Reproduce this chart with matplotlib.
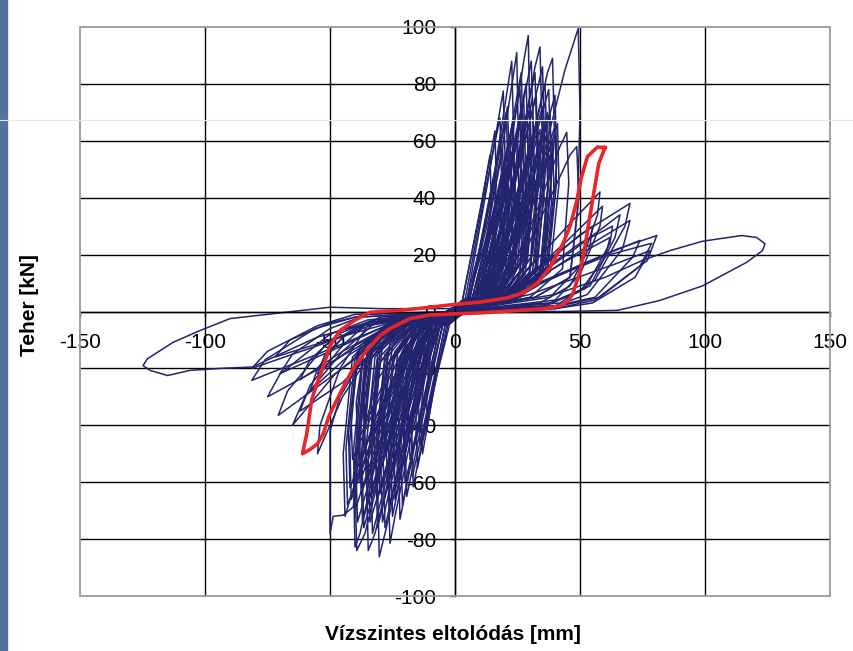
"""Hysteresis chart: Teher vs Vízszintes eltolódás (image-only output)."""

import matplotlib
matplotlib.use("Agg")
import matplotlib.pyplot as plt
from matplotlib.lines import Line2D
from matplotlib.patches import Rectangle

plt.rcParams["font.family"] = ["Liberation Sans", "DejaVu Sans"]

# axis ticks
X_TICKS = [-150, -100, -50, 0, 50, 100, 150]
Y_TICKS = [-100, -80, -60, -40, -20, 0, 20, 40, 60, 80, 100]

# positive spikes (displacement mm, load kN)
pos_spikes = [
    [(-4, -1), (3, 4), (10, 35), (14, 55), (14.5, 40), (12, 12), (6, 4), (-2, 0)],
    [(-3, -1), (3, 4), (11, 40), (16, 63.5), (16.5, 45), (14, 14), (7, 4), (-1, 0)],
    [(-5, -1), (4, 4), (12, 42), (18, 68), (18.6, 48), (15, 15), (8, 5), (-2, 1)],
    [(-3, 0), (5, 5), (13, 45), (19.3, 77.5), (20, 55), (17, 18), (9, 5), (0, 1)],
    [(-6, -1), (5, 4), (14, 30), (20, 50), (20.5, 35), (17, 12), (10, 4), (0, 0)],
    [(-2, 0), (6, 5), (15, 42), (21, 72), (21.8, 50), (18, 15), (10, 4), (1, 1)],
    [(-4, -1), (6, 5), (16, 50), (22.7, 88), (23.5, 60), (20, 18), (12, 5), (0, 0)],
    [(-3, 0), (7, 5), (17, 40), (23, 66), (23.6, 45), (20, 14), (12, 4), (1, 0)],
    [(-5, -1), (8, 5), (18, 28), (24, 45), (24.5, 30), (21, 10), (13, 4), (0, 0)],
    [(-2, 0), (8, 5), (18, 52), (24.7, 91), (25.3, 62), (22, 20), (13, 5), (2, 1)],
    [(-4, -1), (9, 5), (19, 36), (25, 60), (25.6, 40), (22, 12), (14, 4), (0, 0)],
    [(-3, 0), (8, 5), (19, 46), (26, 78), (26.8, 55), (23, 16), (14, 5), (1, 1)],
    [(-2, 0), (9, 5), (20, 42), (27, 70), (27.6, 48), (24, 15), (15, 5), (0, 0)],
    [(-5, -1), (10, 5), (21, 26), (28, 42), (28.5, 28), (25, 10), (16, 4), (0, 0)],
    [(-3, 0), (10, 5), (21, 48), (28.5, 80), (29.2, 56), (26, 17), (16, 5), (1, 1)],
    [(-4, -1), (10, 5), (22, 56), (27.5, 88), (29.3, 97), (30, 65), (27, 20), (17, 6), (1, 1)],
    [(-3, 0), (11, 5), (22, 33), (30, 55), (30.6, 38), (27, 12), (18, 4), (0, 0)],
    [(-2, 0), (11, 5), (23, 44), (31, 75), (31.7, 52), (28, 16), (18, 5), (1, 1)],
    [(-4, -1), (11, 5), (24, 50), (32, 84), (32.8, 58), (29, 18), (19, 5), (0, 0)],
    [(-3, 0), (13, 5), (25, 28), (32, 45), (32.5, 30), (29, 10), (20, 4), (1, 0)],
    [(-2, 0), (12, 5), (25, 40), (33, 68), (33.6, 46), (30, 14), (20, 5), (0, 0)],
    [(-4, -1), (12, 5), (26, 56), (32, 86), (34, 93), (34.8, 64), (31, 20), (21, 6), (1, 1)],
    [(-3, 0), (14, 5), (27, 34), (35, 58), (35.6, 40), (32, 12), (22, 4), (0, 0)],
    [(-2, 0), (13, 5), (27, 46), (36, 80), (36.8, 56), (33, 16), (22, 5), (1, 1)],
    [(-4, -1), (15, 5), (28, 24), (36, 40), (36.5, 27), (33, 9), (23, 4), (0, 0)],
    [(-3, 0), (14, 5), (28, 40), (37, 70), (37.6, 48), (34, 14), (23, 5), (0, 0)],
    [(-2, 0), (16, 5), (29, 32), (38, 55), (38.6, 38), (35, 12), (24, 4), (1, 0)],
    [(-4, -1), (14, 5), (29, 52), (37, 84), (39, 89), (39.8, 62), (36, 18), (24, 6), (1, 1)],
    [(-3, 0), (15, 5), (30, 44), (40, 76), (40.7, 52), (37, 15), (25, 5), (0, 0)],
    [(-2, 0), (16, 5), (31, 38), (41, 66), (41.6, 45), (38, 14), (26, 5), (1, 1)],
    [(-4, -1), (18, 5), (33, 36), (42, 58), (44.7, 63), (45.5, 45), (43, 15), (30, 5), (0, 0)],
    [(-3, 0), (20, 6), (36, 36), (46, 55), (48.7, 58), (49.5, 40), (46, 12), (32, 5), (1, 1)],
    [(-4, -1), (18, 6), (34, 50), (44, 85), (49.3, 99.5), (50, 70), (49, 35), (46, 12), (32, 5), (0, 0)],
    [(-3, 0), (6, 5), (14, 35), (19, 58), (19.6, 40), (16, 12), (9, 4), (0, 0)],
    [(-2, 0), (7, 5), (16, 38), (22, 62), (22.6, 42), (19, 13), (11, 4), (1, 0)],
    [(-4, -1), (8, 5), (17, 36), (23.5, 58), (24.1, 40), (21, 12), (12, 4), (0, 0)],
    [(-3, 0), (9, 5), (19, 40), (26, 66), (26.6, 46), (23, 14), (14, 4), (1, 1)],
    [(-2, 0), (10, 5), (20, 44), (27.5, 74), (28.2, 52), (25, 16), (15, 5), (0, 0)],
    [(-4, -1), (10, 5), (21, 38), (29, 64), (29.6, 45), (26, 14), (16, 4), (1, 0)],
    [(-3, 0), (11, 5), (22, 42), (30, 72), (30.7, 50), (27, 15), (17, 5), (0, 0)],
    [(-2, 0), (12, 5), (23, 36), (31, 62), (31.6, 44), (28, 13), (18, 4), (1, 1)],
    [(-4, -1), (12, 5), (24, 46), (32.5, 76), (33.2, 53), (30, 16), (19, 5), (0, 0)],
    [(-3, 0), (13, 5), (25, 38), (34, 64), (34.6, 45), (31, 14), (20, 4), (1, 0)],
    [(-2, 0), (13, 5), (26, 44), (35, 72), (35.7, 50), (32, 15), (21, 5), (0, 0)],
    [(-4, -1), (14, 5), (27, 36), (36.5, 62), (37.1, 44), (34, 13), (22, 4), (1, 1)],
    [(-3, 0), (15, 5), (28, 42), (38, 70), (38.7, 49), (35, 15), (23, 5), (0, 0)],
    [(-2, 0), (16, 5), (29, 36), (39, 60), (39.6, 42), (36, 13), (24, 4), (1, 0)],
    [(-4, -1), (17, 5), (30, 40), (40, 65), (40.6, 45), (37, 14), (25, 5), (0, 0)],
    [(-3, 0), (6, 5), (15, 45), (20.5, 70), (21.2, 50), (18, 15), (10, 5), (0, 0)],
    [(-2, 0), (9, 5), (20, 52), (26.5, 84), (27.3, 60), (24, 18), (14, 5), (1, 1)],
    [(-4, -1), (11, 5), (23, 54), (30.5, 88), (31.3, 62), (28, 19), (17, 5), (0, 0)],
    [(-3, 0), (13, 5), (26, 52), (35, 86), (35.8, 60), (32, 18), (20, 5), (1, 0)],
    [(-2, 0), (15, 5), (28, 48), (37.5, 78), (38.3, 55), (35, 17), (22, 5), (0, 0)],
    [(-4, -1), (5, 5), (12, 30), (16, 48), (16.5, 34), (13, 11), (7, 4), (0, 0)],
    [(-3, 0), (7, 5), (15, 32), (21, 52), (21.5, 36), (18, 11), (10, 4), (1, 0)],
]

# negative spikes
neg_spikes = [
    [(4, 1), (-2, -4), (-8, -25), (-11, -40), (-11.5, -28), (-9, -10), (-4, -3), (2, 0)],
    [(3, 0), (-3, -4), (-9, -30), (-13, -50), (-13.6, -35), (-11, -12), (-5, -4), (1, 0)],
    [(5, 1), (-3, -5), (-10, -33), (-15, -55), (-15.6, -38), (-12, -13), (-6, -4), (0, 0)],
    [(4, 0), (-4, -5), (-11, -36), (-16.7, -61.6), (-17.3, -43), (-14, -14), (-7, -4), (2, 0)],
    [(3, 1), (-5, -5), (-12, -30), (-18, -52), (-18.6, -36), (-15, -12), (-8, -4), (1, 0)],
    [(5, 0), (-5, -5), (-13, -38), (-19.3, -65), (-20, -45), (-16, -15), (-9, -4), (0, 0)],
    [(4, 1), (-6, -5), (-14, -26), (-20, -45), (-20.6, -31), (-17, -11), (-10, -4), (2, 0)],
    [(3, 0), (-6, -5), (-15, -42), (-22, -73), (-22.7, -51), (-19, -17), (-10, -5), (1, 0)],
    [(5, 1), (-7, -5), (-16, -34), (-23, -58), (-23.6, -40), (-20, -13), (-11, -4), (0, 0)],
    [(4, 0), (-7, -5), (-17, -38), (-24, -66), (-24.7, -46), (-21, -15), (-12, -5), (2, 0)],
    [(3, 1), (-7, -5), (-18, -46), (-24, -72), (-26, -81.5), (-26.8, -57), (-23, -18), (-13, -5), (1, 0)],
    [(5, 0), (-8, -5), (-19, -36), (-27, -62), (-27.6, -43), (-24, -14), (-14, -4), (0, 0)],
    [(4, 1), (-9, -5), (-20, -28), (-28, -50), (-28.6, -35), (-25, -12), (-15, -4), (2, 0)],
    [(3, 0), (-9, -5), (-21, -42), (-29, -74), (-29.7, -52), (-26, -17), (-15, -5), (1, 0)],
    [(5, 1), (-8, -5), (-20, -48), (-28, -78), (-30.3, -86.2), (-31, -60), (-27, -19), (-16, -5), (0, 0)],
    [(4, 0), (-10, -5), (-22, -38), (-31, -66), (-31.6, -46), (-28, -15), (-17, -5), (2, 0)],
    [(3, 1), (-11, -5), (-23, -32), (-32, -55), (-32.6, -38), (-29, -12), (-18, -4), (1, 0)],
    [(5, 0), (-10, -5), (-23, -44), (-33, -78), (-33.7, -55), (-30, -18), (-18, -5), (0, 0)],
    [(4, 1), (-10, -5), (-24, -50), (-32, -78), (-34.7, -84), (-35.4, -59), (-31, -19), (-19, -5), (2, 0)],
    [(3, 0), (-12, -5), (-25, -40), (-35, -68), (-35.6, -48), (-32, -16), (-20, -5), (1, 0)],
    [(5, 1), (-13, -5), (-26, -28), (-36, -48), (-36.6, -34), (-33, -11), (-21, -4), (0, 0)],
    [(4, 0), (-12, -5), (-27, -43), (-37, -74), (-37.7, -52), (-34, -17), (-22, -5), (2, 0)],
    [(3, 1), (-14, -5), (-28, -35), (-38, -60), (-38.6, -42), (-35, -14), (-23, -5), (1, 0)],
    [(5, 0), (-13, -5), (-28, -50), (-36, -78), (-39.3, -84), (-40, -59), (-36, -19), (-24, -6), (0, 0)],
    [(4, 1), (-14, -5), (-29, -40), (-40, -70), (-40.6, -49), (-37, -16), (-25, -5), (2, 0)],
    [(3, 0), (-16, -5), (-30, -30), (-41, -52), (-41.6, -36), (-38, -12), (-26, -4), (1, 0)],
    [(5, 1), (-15, -5), (-31, -36), (-42, -62), (-42.6, -43), (-39, -14), (-27, -5), (0, 0)],
    [(4, 0), (-16, -5), (-30, -46), (-38, -78), (-40, -82.8), (-40.6, -58), (-37, -18), (-26, -6), (2, 0)],
    [(3, 1), (-17, -5), (-31, -24), (-36, -40), (-36.5, -28), (-33, -9), (-23, -4), (1, 0)],
    [(5, 0), (-15, -5), (-33, -40), (-44, -72), (-44.7, -50), (-41, -16), (-28, -5), (0, 0)],
    [(0, -1), (-20, -5), (-38, -18), (-46, -30), (-50, -42), (-50, -56), (-50, -78), (-48.7, -72),
     (-44.7, -71.6), (-40.7, -68.7), (-38, -45), (-35, -15), (-25, -5), (0, 0)],
    [(4, 0), (-3, -5), (-9, -28), (-14, -47), (-14.6, -33), (-12, -11), (-6, -4), (1, 0)],
    [(3, 1), (-4, -5), (-11, -34), (-17, -58), (-17.6, -40), (-14, -13), (-7, -4), (0, 0)],
    [(5, 0), (-5, -5), (-13, -36), (-20, -60), (-20.6, -42), (-17, -14), (-9, -4), (2, 0)],
    [(4, 1), (-6, -5), (-15, -40), (-21, -68), (-21.7, -48), (-18, -16), (-10, -5), (1, 0)],
    [(3, 0), (-7, -5), (-16, -36), (-24, -62), (-24.6, -43), (-21, -14), (-12, -4), (0, 0)],
    [(5, 1), (-8, -5), (-18, -42), (-25, -72), (-25.7, -50), (-22, -16), (-13, -5), (2, 0)],
    [(4, 0), (-8, -5), (-19, -40), (-26, -68), (-26.6, -47), (-23, -15), (-14, -4), (1, 0)],
    [(3, 1), (-9, -5), (-20, -44), (-28, -76), (-28.7, -53), (-25, -17), (-15, -5), (0, 0)],
    [(5, 0), (-10, -5), (-21, -38), (-30, -64), (-30.6, -45), (-27, -14), (-16, -4), (2, 0)],
    [(4, 1), (-11, -5), (-22, -44), (-31, -76), (-31.7, -53), (-28, -17), (-17, -5), (1, 0)],
    [(3, 0), (-11, -5), (-23, -38), (-33, -64), (-33.6, -45), (-30, -14), (-18, -4), (0, 0)],
    [(5, 1), (-12, -5), (-24, -44), (-34, -74), (-34.7, -52), (-31, -17), (-19, -5), (2, 0)],
    [(4, 0), (-13, -5), (-25, -36), (-35.5, -60), (-36.1, -42), (-33, -14), (-20, -4), (1, 0)],
    [(3, 1), (-13, -5), (-26, -44), (-36.5, -76), (-37.2, -53), (-34, -17), (-21, -5), (0, 0)],
    [(5, 0), (-14, -5), (-27, -38), (-37.5, -64), (-38.1, -45), (-35, -14), (-22, -4), (2, 0)],
    [(4, 1), (-15, -5), (-29, -44), (-39, -74), (-39.7, -52), (-36, -17), (-23, -5), (1, 0)],
    [(3, 0), (-15, -5), (-30, -38), (-41.5, -66), (-42.1, -46), (-39, -15), (-25, -4), (0, 0)],
    [(5, 1), (-17, -5), (-32, -42), (-43, -68), (-43.6, -48), (-40, -16), (-27, -5), (2, 0)],
    [(4, 0), (-6, -5), (-16, -32), (-22, -52), (-22.6, -36), (-19, -12), (-11, -4), (1, 0)],
    [(3, 1), (-10, -5), (-22, -30), (-29, -48), (-29.6, -34), (-26, -11), (-16, -4), (0, 0)],
    [(5, 0), (-14, -5), (-26, -28), (-33, -44), (-33.5, -31), (-30, -10), (-20, -4), (2, 0)],
    [(4, 1), (-18, -5), (-30, -28), (-39, -46), (-39.5, -32), (-36, -11), (-24, -4), (1, 0)],
]

# degraded cycles fanning out to the right / left
pos_lobes = [
    [(0, 0), (20, 5), (45, 25), (59, 37), (58, 30), (50, 13), (40, 4), (0, 0)],
    [(0, 0), (22, 6), (50, 27), (70, 38), (68, 30), (56, 11), (42, 3), (0, 0)],
    [(0, 0), (25, 7), (55, 24), (70, 32), (67, 22), (53, 6), (40, 2), (0, 0)],
    [(0, 0), (25, 6), (60, 20), (74, 25), (71, 19), (56, 5), (40, 2), (0, 0)],
    [(0, 0), (28, 8), (62, 20), (78.7, 24), (74, 16), (56, 4), (40, 1), (0, 0)],
    [(0, 0), (28, 8), (65, 22), (80.7, 26.7), (77, 18), (58, 5), (42, 2), (0, 0)],
    [(0, 0), (30, 6), (65, 17), (78, 21.4), (72, 12), (55, 3), (40, 1), (0, 0)],
    [(0, 0), (22, 8), (45, 30), (58, 42), (57, 34), (50, 16), (38, 5), (0, 0)],
    [(0, 0), (25, 8), (50, 24), (63, 30), (62, 24), (52, 8), (38, 3), (0, 0)],
    [(0, 0), (20, 6), (40, 20), (55, 30), (54, 23), (46, 9), (34, 3), (0, 0)],
    [(0, 0), (22, 6), (45, 18), (62, 26), (60, 19), (50, 7), (36, 2), (0, 0)],
    [(0, 0), (24, 7), (48, 22), (66, 34), (64, 26), (54, 9), (38, 3), (0, 0)],
]

neg_lobes = [
    [(0, 0), (-20, -3), (-45, -20), (-70.7, -36.5), (-67, -28), (-52, -12), (-38, -5), (0, 0)],
    [(0, 0), (-22, -3), (-55, -15), (-81.3, -24.2), (-76, -17), (-56, -6), (-40, -2), (0, 0)],
    [(0, 0), (-25, -2), (-55, -12), (-81.3, -20), (-75, -14), (-55, -5), (-40, -1), (0, 0)],
    [(0, 0), (-20, -2), (-50, -14), (-70, -21.8), (-65, -15), (-50, -6), (-38, -2), (0, 0)],
    [(0, 0), (-20, -3), (-45, -25), (-62, -35), (-58, -26), (-45, -12), (-35, -4), (0, 0)],
    [(0, 0), (-18, -2), (-50, -18), (-75, -30), (-70, -22), (-50, -8), (-35, -3), (0, 0)],
    [(0, 0), (-20, -2), (-48, -22), (-65, -40), (-60, -30), (-45, -14), (-32, -4), (0, 0)],
    [(0, 0), (-22, -3), (-50, -10), (-72, -16), (-66, -10), (-50, -4), (-35, -1), (0, 0)],
    [(0, 0), (-25, -3), (-45, -30), (-55, -50), (-54, -40), (-46, -20), (-35, -5), (0, 0)],
    [(0, 0), (-20, -3), (-42, -15), (-58, -28), (-55, -20), (-45, -9), (-32, -3), (0, 0)],
    [(0, 0), (-18, -2), (-40, -12), (-55, -22), (-52, -15), (-42, -7), (-30, -2), (0, 0)],
    [(0, 0), (-22, -3), (-45, -14), (-62, -24), (-58, -17), (-47, -8), (-33, -3), (0, 0)],
]

# last, largest cycle
big_loop = [
    (0, 0), (20, 0.3), (42, 0), (65, 0.4), (82, 3.9), (99, 9), (116.7, 17.3), (123, 21.4),
    (124, 23.8), (120.7, 26), (114.7, 26.7), (99, 24.7), (86, 21.4), (75, 18), (60, 12),
    (40, 6), (20, 3), (0, 1), (-29, 1), (-50, 1.5), (-69, -0.4), (-90, -2.5), (-102, -6.7),
    (-112.7, -10.8), (-123, -16.6), (-124.8, -19), (-122, -20.7), (-115, -22.5), (-106, -20.7),
    (-94, -20), (-81, -19.5), (-70, -15), (-55, -9), (-35, -4), (-15, -1), (0, 0),
]

# red reference loop
red_x = [60, 57, 53, 50.5, 48.5, 46, 43, 38, 33, 27, 21, 10, 0, -12, -22, -30, -34, -40, -46,
         -50, -52.7, -55.5, -57.3, -59.3, -61, -58, -55, -52.7, -50.5, -48.7, -43.3, -40,
         -35.3, -30, -26, -18, -10, 0, 10, 26, 36, 42, 45, 47, 48.5, 50, 52, 55, 57.5, 60]
red_y = [57.6, 57.8, 54.5, 47, 38, 30, 23.5, 15.5, 10, 6.5, 4.8, 3.3, 2.5, 1.3, 0.4, 0, -0.3,
         -3, -6.7, -12, -19.5, -26, -31, -43, -50, -48.5, -46.5, -43, -37, -33.6, -24.2, -19,
         -13.7, -8.5, -6, -2.5, -1.2, -0.8, -0.5, 0.4, 1, 2, 3.5, 6, 10, 14, 23, 39, 52, 57.6]

BLUE = "#23246f"
RED = "#e8262a"


def main() -> None:
    fig = plt.figure(figsize=(8.54, 6.51), dpi=100)
    ax = fig.add_axes([80 / 854, 55 / 651, 750 / 854, 569 / 651])
    ax.set_xlim(-150, 150)
    ax.set_ylim(-100, 100)

    for v in X_TICKS[1:-1]:
        ax.axvline(v, color="black", lw=1.0, zorder=1)
    for v in Y_TICKS[1:-1]:
        ax.axhline(v, color="black", lw=1.0, zorder=1)

    for loop in pos_spikes + neg_spikes + pos_lobes + neg_lobes + [big_loop]:
        xs, ys = zip(*loop)
        ax.plot(xs, ys, color=BLUE, lw=1.1, zorder=2)
    ax.plot(red_x, red_y, color=RED, lw=2.6, zorder=3, solid_joinstyle="round")

    ax.spines["left"].set_position(("data", 0))
    ax.spines["bottom"].set_position(("data", 0))
    ax.spines["top"].set_visible(False)
    ax.spines["right"].set_visible(False)
    for s in ("left", "bottom"):
        ax.spines[s].set_color("black")
        ax.spines[s].set_linewidth(1.0)
    ax.add_patch(Rectangle((0, 0), 1, 1, transform=ax.transAxes, fill=False,
                           ec="#9a9a9a", lw=1.3, clip_on=False, zorder=4))

    ax.set_xticks(X_TICKS)
    ax.set_yticks(Y_TICKS)
    ax.set_xticklabels([str(v) for v in X_TICKS])
    ax.set_yticklabels([str(v) for v in Y_TICKS])
    ax.tick_params(axis="x", direction="out", length=3.6, width=1, labelsize=15, pad=12)
    ax.tick_params(axis="y", direction="out", length=3.6, width=1, labelsize=15, pad=10)

    fig.text(453 / 854, 1 - 635 / 651, "Vízszintes eltolódás [mm]", ha="center", va="center",
             fontsize=15, fontweight="bold")
    fig.text(30 / 854, 1 - 305 / 651, "Teher [kN]", ha="center", va="center", rotation=90,
             fontsize=15, fontweight="bold")

    # slide background remnants
    fig.patches.append(Rectangle((0, 0), 7 / 854, 1, transform=fig.transFigure,
                                 color="#55729c", zorder=0))
    fig.add_artist(Line2D([0, 1], [1 - 120 / 651] * 2, transform=fig.transFigure,
                          color="#e3e7ee", lw=0.8, zorder=10))

    fig.savefig("out.png", dpi=100)
    plt.close(fig)


if __name__ == "__main__":
    main()
